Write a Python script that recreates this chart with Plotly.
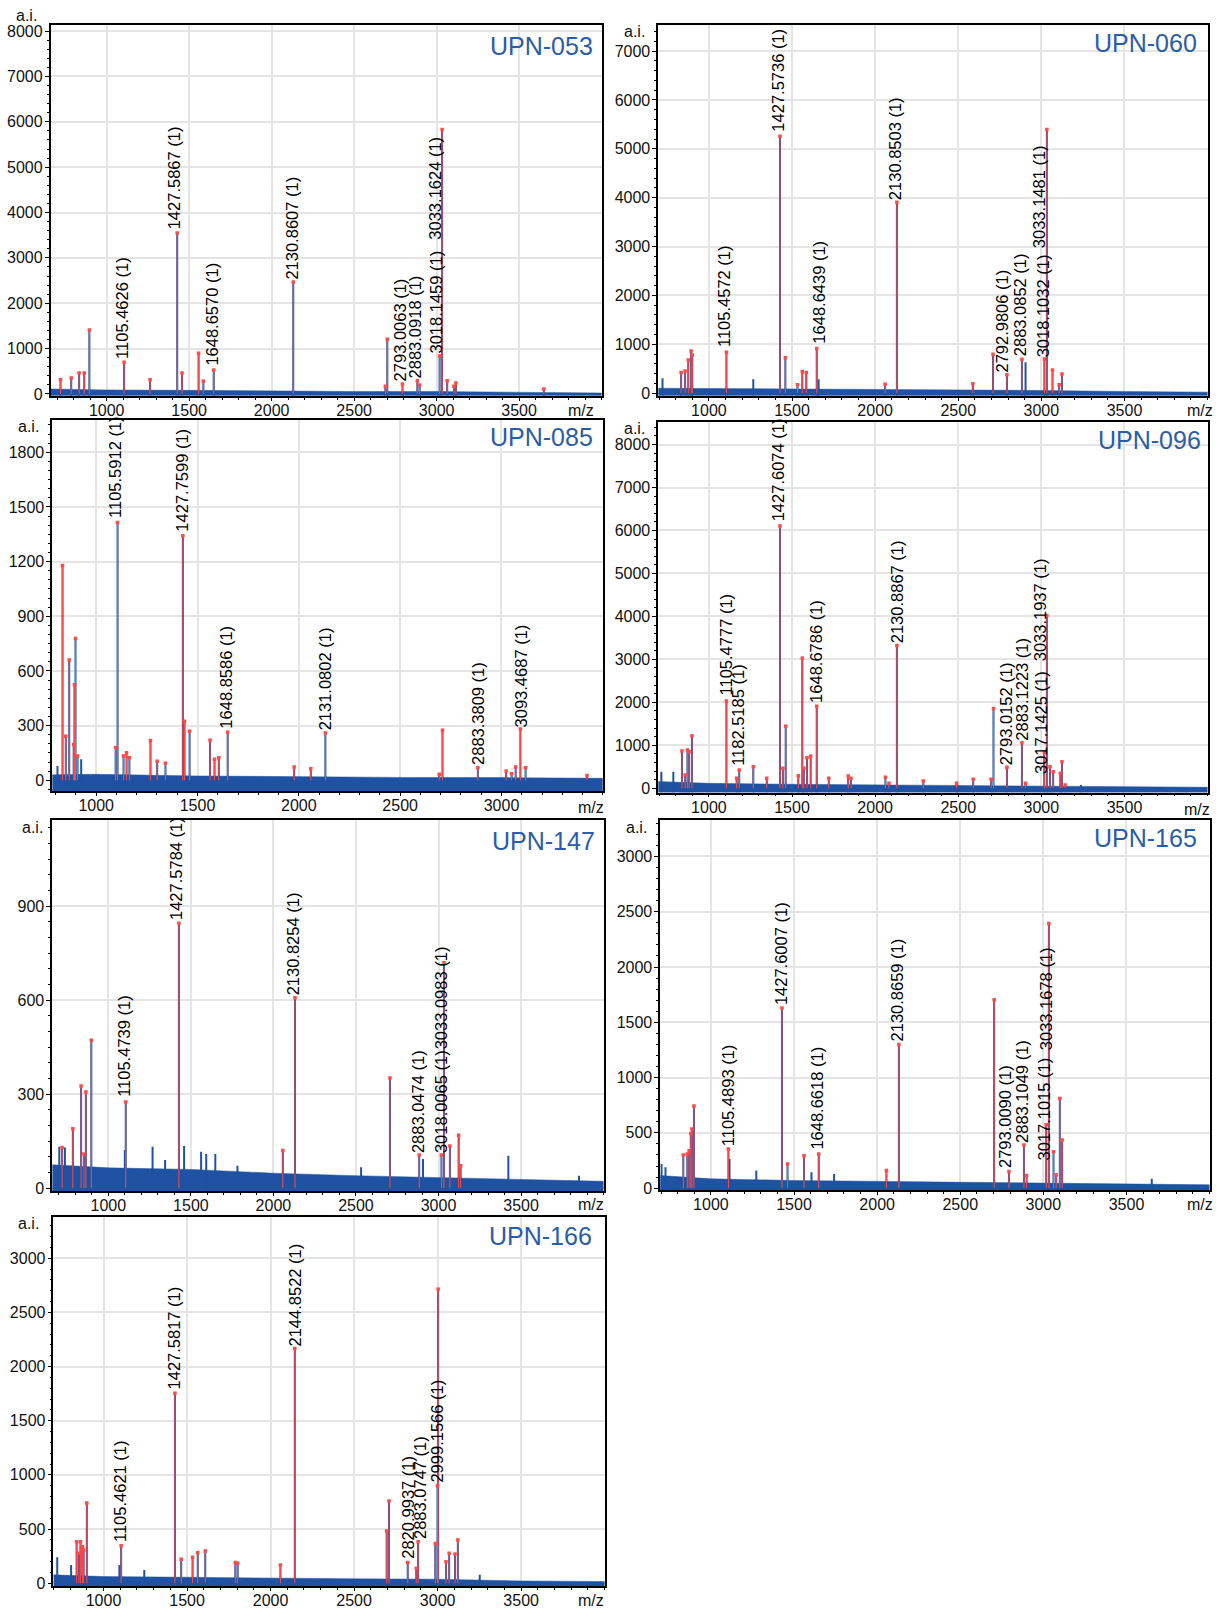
import plotly.graph_objects as go

W, H = 1232, 1618

# ---------------- DATA ----------------
# UPN-053
p053_mz = [720, 785, 833, 864, 895, 1105.4626, 1263, 1427.5867, 1457, 1557, 1586, 1648.6570, 2130.8607,
           2689, 2701, 2793.0063, 2883.0918, 2897, 3018.1459, 3033.1624, 3064, 3105, 3117, 3650]
p053_int = [314, 350, 460, 460, 1410, 700, 314, 3550, 460, 900, 280, 530, 2470,
            170, 1205, 220, 290, 200, 840, 5830, 290, 170, 240, 110]
p053_picked = [1] * 24
p053_labels = ["1105.4626 (1)", "1427.5867 (1)", "1648.6570 (1)", "2130.8607 (1)",
               "2793.0063 (1)", "2883.0918 (1)", "3018.1459 (1)", "3033.1624 (1)"]
p053_noise_mz = [660, 1000, 1500, 2000, 2500, 3000, 3500, 4000]
p053_noise = [110, 90, 80, 60, 55, 55, 37, 22]

# UPN-060
p060_mz = [721, 833, 857, 876, 893, 900, 1105.4572, 1267, 1427.5736, 1460, 1533, 1562, 1586, 1648.6439,
           1660, 2060, 2130.8503, 2588, 2709, 2792.9806, 2883.0852, 2905, 3018.1032, 3033.1481, 3067, 3107, 3124]
p060_int = [305, 420, 450, 680, 860, 780, 834, 285, 5257, 726, 170, 440, 420, 915,
            285, 183, 3907, 190, 794, 375, 695, 630, 700, 5393, 475, 170, 390]
p060_picked = [0, 1, 1, 1, 1, 1, 1, 0, 1, 1, 1, 1, 1, 1, 0, 1, 1, 1, 1, 1, 1, 0, 1, 1, 1, 1, 1]
p060_labels = ["1105.4572 (1)", "1427.5736 (1)", "1648.6439 (1)", "2130.8503 (1)",
               "2792.9806 (1)", "2883.0852 (1)", "3018.1032 (1)", "3033.1481 (1)"]
p060_noise_mz = [695, 1000, 1500, 2000, 2500, 3000, 3500, 4000]
p060_noise = [100, 95, 80, 68, 60, 54, 34, 20]

# UPN-085
p085_mz = [809, 834, 850, 867, 889, 893, 898, 908, 926, 1096, 1105.5912, 1135, 1150, 1164, 1268, 1301, 1342,
           1427.7599, 1436, 1461, 1562, 1584, 1605, 1648.8586, 1977, 2059, 2131.0802, 2693, 2709,
           2883.3809, 3023, 3050, 3070, 3093.4687, 3119, 3422]
p085_int = [78, 1178, 242, 660, 196, 524, 778, 133, 115, 180, 1414, 133, 151, 124, 218, 105, 93,
            1342, 324, 269, 220, 115, 124, 264, 73, 64, 260, 33, 275,
            69, 51, 36, 73, 282, 69, 27]
p085_picked = [0, 1, 1, 1, 1, 1, 1, 1, 0] + [1] * 27
p085_labels = ["1105.5912 (1)", "1427.7599 (1)", "1648.8586 (1)", "2131.0802 (1)",
               "2883.3809 (1)", "3093.4687 (1)"]
p085_noise_mz = [783, 1000, 1500, 2000, 2500, 3000, 3500]
p085_noise = [30, 33, 24, 18, 16, 15, 11]

# UPN-096
p096_mz = [714, 786, 838, 857, 871, 881, 898, 1105.4777, 1167, 1182.5185, 1267, 1348, 1427.6074, 1445, 1462,
           1538, 1562, 1571, 1590, 1612, 1648.6786, 1721, 1838, 1855, 2062, 2083, 2130.8867, 2290, 2490,
           2590, 2698, 2712, 2793.0152, 2883.1223, 2905, 3017.1425, 3033.1937, 3052, 3071, 3114, 3124,
           3143, 3238]
p096_int = [387, 387, 866, 310, 890, 850, 1220, 2033, 232, 425, 500, 232, 6107, 464, 1445,
            294, 3030, 464, 711, 750, 1909, 232, 286, 232, 255, 116, 3324, 170, 116,
            209, 209, 1855, 487, 1059, 116, 850, 4020, 500, 387, 348, 618,
            77, 77]
p096_picked = [0, 0] + [1] * 40 + [0]
p096_labels = ["1105.4777 (1)", "1182.5185 (1)", "1427.6074 (1)", "1648.6786 (1)", "2130.8867 (1)",
               "2793.0152 (1)", "2883.1223 (1)", "3017.1425 (1)", "3033.1937 (1)"]
p096_noise_mz = [695, 1000, 1500, 2000, 2500, 3000, 3500, 4000]
p096_noise = [155, 116, 93, 77, 62, 54, 31, 23]

# UPN-147
p147_mz = [703, 720, 737, 785, 835, 852, 864, 897, 1100, 1105.4739, 1268, 1344, 1427.5784, 1459, 1562,
           1593, 1648, 1782, 2057, 2130.8254, 2531, 2706, 2883.0474, 2906, 3018.0065, 3033.0983,
           3069, 3122, 3134, 3423, 3851]
p147_int = [132, 130, 130, 190, 326, 109, 307, 472, 122, 275, 132, 90, 846, 135, 116,
            109, 109, 72, 120, 608, 67, 352, 106, 93, 106, 720,
            135, 169, 72, 104, 40]
p147_picked = [0, 1, 0, 1, 1, 1, 1, 1, 0, 1, 0, 0, 1, 0, 0, 0, 0, 0, 1, 1, 0, 1, 1, 0, 1, 1, 1, 1, 1, 0, 0]
p147_labels = ["1105.4739 (1)", "1427.5784 (1)", "2130.8254 (1)", "2883.0474 (1)",
               "3018.0065 (1)", "3033.0983 (1)"]
p147_noise_mz = [660, 1000, 1500, 2000, 2500, 3000, 3500, 4000]
p147_noise = [75, 65, 60, 48, 40, 35, 28, 22]

# UPN-165
p165_mz = [703, 727, 834, 858, 869, 879, 886, 898, 1105.4893, 1112, 1273, 1427.6007, 1461, 1560, 1605,
           1648.6618, 1741, 2056, 2130.8659, 2704, 2793.0090, 2883.1049, 2899, 3017.1015, 3033.1678,
           3061, 3077, 3099, 3113, 3652]
p165_int = [219, 189, 300, 309, 339, 495, 534, 744, 354, 264, 159, 1629, 219, 294, 144,
            309, 129, 159, 1299, 1704, 150, 390, 114, 573, 2394,
            330, 120, 810, 435, 84]
p165_picked = [0, 0, 1, 1, 1, 1, 1, 1, 1, 0, 0, 1, 1, 1, 0, 1, 0, 1, 1, 1, 1, 1, 1, 1, 1, 1, 1, 1, 1, 0]
p165_labels = ["1105.4893 (1)", "1427.6007 (1)", "1648.6618 (1)", "2130.8659 (1)",
               "2793.0090 (1)", "2883.1049 (1)", "3017.1015 (1)", "3033.1678 (1)"]
p165_noise_mz = [695, 1000, 1500, 2000, 2500, 3000, 3500, 4000]
p165_noise = [114, 84, 69, 60, 54, 48, 39, 30]

# UPN-166
p166_mz = [723, 806, 839, 853, 862, 874, 881, 900, 1095, 1105.4621, 1244, 1427.5817, 1465, 1533, 1564,
           1609, 1789, 1803, 2059, 2144.8522, 2695, 2709, 2820.9937, 2872, 2883.0747, 2986, 2999.1566,
           3003, 3050, 3069, 3104, 3121, 3252]
p166_int = [239, 168, 383, 276, 383, 337, 306, 741, 168, 346, 122, 1754, 220, 239, 282,
            297, 190, 184, 168, 2167, 481, 759, 190, 138, 383, 367, 900,
            2715, 199, 276, 269, 398, 77]
p166_picked = [0, 0, 1, 1, 1, 1, 1, 1, 0, 1, 0, 1, 1, 1, 1, 1, 1, 1, 1, 1, 1, 1, 1, 1, 1, 1, 1, 1, 1, 1, 1, 1, 0]
p166_labels = ["1105.4621 (1)", "1427.5817 (1)", "2144.8522 (1)", "2820.9937 (1)",
               "2883.0747 (1)", "2999.1566 (1)"]
p166_noise_mz = [700, 1000, 1500, 2000, 2500, 3000, 3500, 4000]
p166_noise = [77, 61, 55, 46, 40, 37, 21, 15]

# ---------------- LAYOUT (positions, not data) ----------------
# label placement (x centre, y bottom) in data units
p053_lab_pos = [(1093, 752), (1409, 3600), (1636, 606), (2122, 2506), (2775, 256), (2870, 314), (2997, 862), (2988, 3383)]
p060_lab_pos = [(1095, 916), (1417, 5325), (1657, 984), (2124, 3934), (2762, 407), (2872, 726), (3007, 712), (2990, 2950)]
p085_lab_pos = [(1096, 1432), (1422, 1360), (1643, 278), (2127, 269), (2881, 78), (3096, 287)]
p096_lab_pos = [(1100, 2126), (1176, 502), (1417, 6184), (1643, 1971), (2131, 3362), (2788, 502), (2886, 1082), (2995, 309), (2990, 2937)]
p147_lab_pos = [(1096, 289), (1411, 852), (2119, 611), (2873, 109), (3012, 109), (3012, 440)]
p165_lab_pos = [(1102, 369), (1423, 1644), (1641, 339), (2118, 1320), (2773, 174), (2868, 399), (3006, 240), (3013, 1239)]
p166_lab_pos = [(1102, 367), (1422, 1775), (2145, 2179), (2818, 214), (2891, 398), (2998, 918)]

panels = [
    dict(name="UPN-053", mz=p053_mz, it=p053_int, pk=p053_picked, labels=p053_labels, lpos=p053_lab_pos,
         nmz=p053_noise_mz, nz=p053_noise, box=(50.6, 601.6, 23.3, 396), xr=(660, 4000), yr=(-40, 8130),
         dtick=1000, minor=200, xt=[1000, 1500, 2000, 2500, 3000, 3500],
         title=(595, 43.8), ai=(26.7, 13.3), mzl=(581, 410.7)),
    dict(name="UPN-060", mz=p060_mz, it=p060_int, pk=p060_picked, labels=p060_labels, lpos=p060_lab_pos,
         nmz=p060_noise_mz, nz=p060_noise, box=(658.2, 1207.6, 23.3, 396), xr=(695, 4000), yr=(-55, 7530),
         dtick=1000, minor=200, xt=[1000, 1500, 2000, 2500, 3000, 3500],
         title=(1199, 40.8), ai=(634.8, 30), mzl=(1200, 410.7)),
    dict(name="UPN-085", mz=p085_mz, it=p085_int, pk=p085_picked, labels=p085_labels, lpos=p085_lab_pos,
         nmz=p085_noise_mz, nz=p085_noise, box=(52.2, 602.8, 420.7, 793.3), xr=(783, 3500), yr=(-58, 1975),
         dtick=300, minor=50, xt=[1000, 1500, 2000, 2500, 3000],
         title=(594.9, 437.2), ai=(28.7, 426.7), mzl=(591, 810)),
    dict(name="UPN-096", mz=p096_mz, it=p096_int, pk=p096_picked, labels=p096_labels, lpos=p096_lab_pos,
         nmz=p096_noise_mz, nz=p096_noise, box=(658.2, 1207.6, 422.7, 795), xr=(695, 4000), yr=(-100, 8517),
         dtick=1000, minor=200, xt=[1000, 1500, 2000, 2500, 3000, 3500],
         title=(1203, 440.8), ai=(634.8, 429), mzl=(1197, 812)),
    dict(name="UPN-147", mz=p147_mz, it=p147_int, pk=p147_picked, labels=p147_labels, lpos=p147_lab_pos,
         nmz=p147_noise_mz, nz=p147_noise, box=(52.2, 603.6, 822.7, 1196), xr=(660, 4000), yr=(-10, 1175),
         dtick=300, minor=50, xt=[1000, 1500, 2000, 2500, 3000, 3500],
         title=(596.8, 844), ai=(32.6, 830), mzl=(591, 1209)),
    dict(name="UPN-165", mz=p165_mz, it=p165_int, pk=p165_picked, labels=p165_labels, lpos=p165_lab_pos,
         nmz=p165_noise_mz, nz=p165_noise, box=(660.2, 1209.6, 822.7, 1195), xr=(695, 4000), yr=(-20, 3329),
         dtick=500, minor=100, xt=[1000, 1500, 2000, 2500, 3000, 3500],
         title=(1199, 840.8), ai=(636.7, 830), mzl=(1200, 1209)),
    dict(name="UPN-166", mz=p166_mz, it=p166_int, pk=p166_picked, labels=p166_labels, lpos=p166_lab_pos,
         nmz=p166_noise_mz, nz=p166_noise, box=(53.4, 604.7, 1221.7, 1593.3), xr=(700, 4000), yr=(-30, 3382),
         dtick=500, minor=100, xt=[1000, 1500, 2000, 2500, 3000, 3500],
         title=(594, 1240.8), ai=(28.7, 1228.3), mzl=(591, 1607.6)),
]

BLUE = "#1f52a2"
RED = "#ff4a4a"
TITLE = "#2a5caa"
FONT = "Arial, Liberation Sans, sans-serif"


def px(xp, yp):
    return xp / W, 1 - yp / H


fig = go.Figure()
annotations = []
layout = {}

for i, p in enumerate(panels):
    n = "" if i == 0 else str(i + 1)
    xa, ya = "x" + n, "y" + n
    left, right, top, bottom = p["box"]
    floor = p["yr"][0]
    # noise band (filled down to the axis floor)
    fig.add_trace(go.Scatter(
        x=p["nmz"] + p["nmz"][::-1], y=p["nz"] + [floor] * len(p["nmz"]),
        fill="toself", fillcolor=BLUE, line=dict(width=0.5, color=BLUE), mode="lines",
        xaxis=xa, yaxis=ya, hoverinfo="skip"))
    # blue sticks
    bx, by = [], []
    for m, h in zip(p["mz"], p["it"]):
        bx += [m, m, None]
        by += [floor, h, None]
    fig.add_trace(go.Scatter(x=bx, y=by, mode="lines", line=dict(color=BLUE, width=2),
                             xaxis=xa, yaxis=ya, hoverinfo="skip"))
    # red picked sticks
    rx, ry, mx, my = [], [], [], []
    for m, h, k in zip(p["mz"], p["it"], p["pk"]):
        if k:
            rx += [m, m, None]
            ry += [0, h, None]
            mx.append(m)
            my.append(h)
    fig.add_trace(go.Scatter(x=rx, y=ry, mode="lines", line=dict(color=RED, width=1),
                             xaxis=xa, yaxis=ya, hoverinfo="skip"))
    fig.add_trace(go.Scatter(x=mx, y=my, mode="markers",
                             marker=dict(color=RED, size=3.5, symbol="square"),
                             xaxis=xa, yaxis=ya, hoverinfo="skip"))

    axcommon = dict(showline=True, linecolor="black", linewidth=1.5, mirror=True,
                    showgrid=True, gridcolor="#e4e4e4", gridwidth=1.5, zeroline=False,
                    tickfont=dict(family=FONT, size=16, color="#111"),
                    ticks="outside", tickcolor="black", ticklen=4, tickwidth=1)
    x0, x1 = left / W, right / W
    y0, y1 = 1 - bottom / H, 1 - top / H
    layout["xaxis" + n] = dict(axcommon, domain=[x0, x1], range=list(p["xr"]), anchor=ya,
                               tickmode="array", tickvals=p["xt"], ticklen=3, ticklabelstandoff=-4,
                               minor=dict(dtick=100, tick0=0, ticks="outside", ticklen=2,
                                          tickcolor="black", showgrid=False))
    layout["yaxis" + n] = dict(axcommon, domain=[y0, y1], range=list(p["yr"]), anchor=xa,
                               tickmode="linear", tick0=0, dtick=p["dtick"], ticklabelstandoff=-1,
                               minor=dict(dtick=p["minor"], tick0=0, ticks="outside", ticklen=2,
                                          tickcolor="black", showgrid=False))

    # peak labels
    for txt, (lx, ly) in zip(p["labels"], p["lpos"]):
        annotations.append(dict(x=lx, y=ly, xref=xa, yref=ya, text=txt, textangle=-90,
                                showarrow=False, xanchor="center", yanchor="bottom",
                                font=dict(family=FONT, size=16.5, color="black"), borderpad=0))
    # title
    tx, ty = px(*p["title"])
    annotations.append(dict(x=tx, y=ty, xref="paper", yref="paper", text=p["name"], showarrow=False,
                            xanchor="right", yanchor="middle",
                            font=dict(family=FONT, size=25, color=TITLE)))
    ax_, ay_ = px(*p["ai"])
    annotations.append(dict(x=ax_, y=ay_, xref="paper", yref="paper", text="a.i.", showarrow=False,
                            xanchor="center", yanchor="middle",
                            font=dict(family=FONT, size=16, color="#111")))
    mx_, my_ = px(*p["mzl"])
    annotations.append(dict(x=mx_, y=my_, xref="paper", yref="paper", text="m/z", showarrow=False,
                            xanchor="center", yanchor="middle",
                            font=dict(family=FONT, size=16, color="#111")))

fig.update_layout(width=W, height=H, margin=dict(l=0, r=0, t=0, b=0),
                  paper_bgcolor="white", plot_bgcolor="white", showlegend=False,
                  annotations=annotations, **layout)

fig.write_html("out.html", config={"displayModeBar": False},
               post_script="document.body.style.margin='0';document.body.style.overflow='hidden';")
